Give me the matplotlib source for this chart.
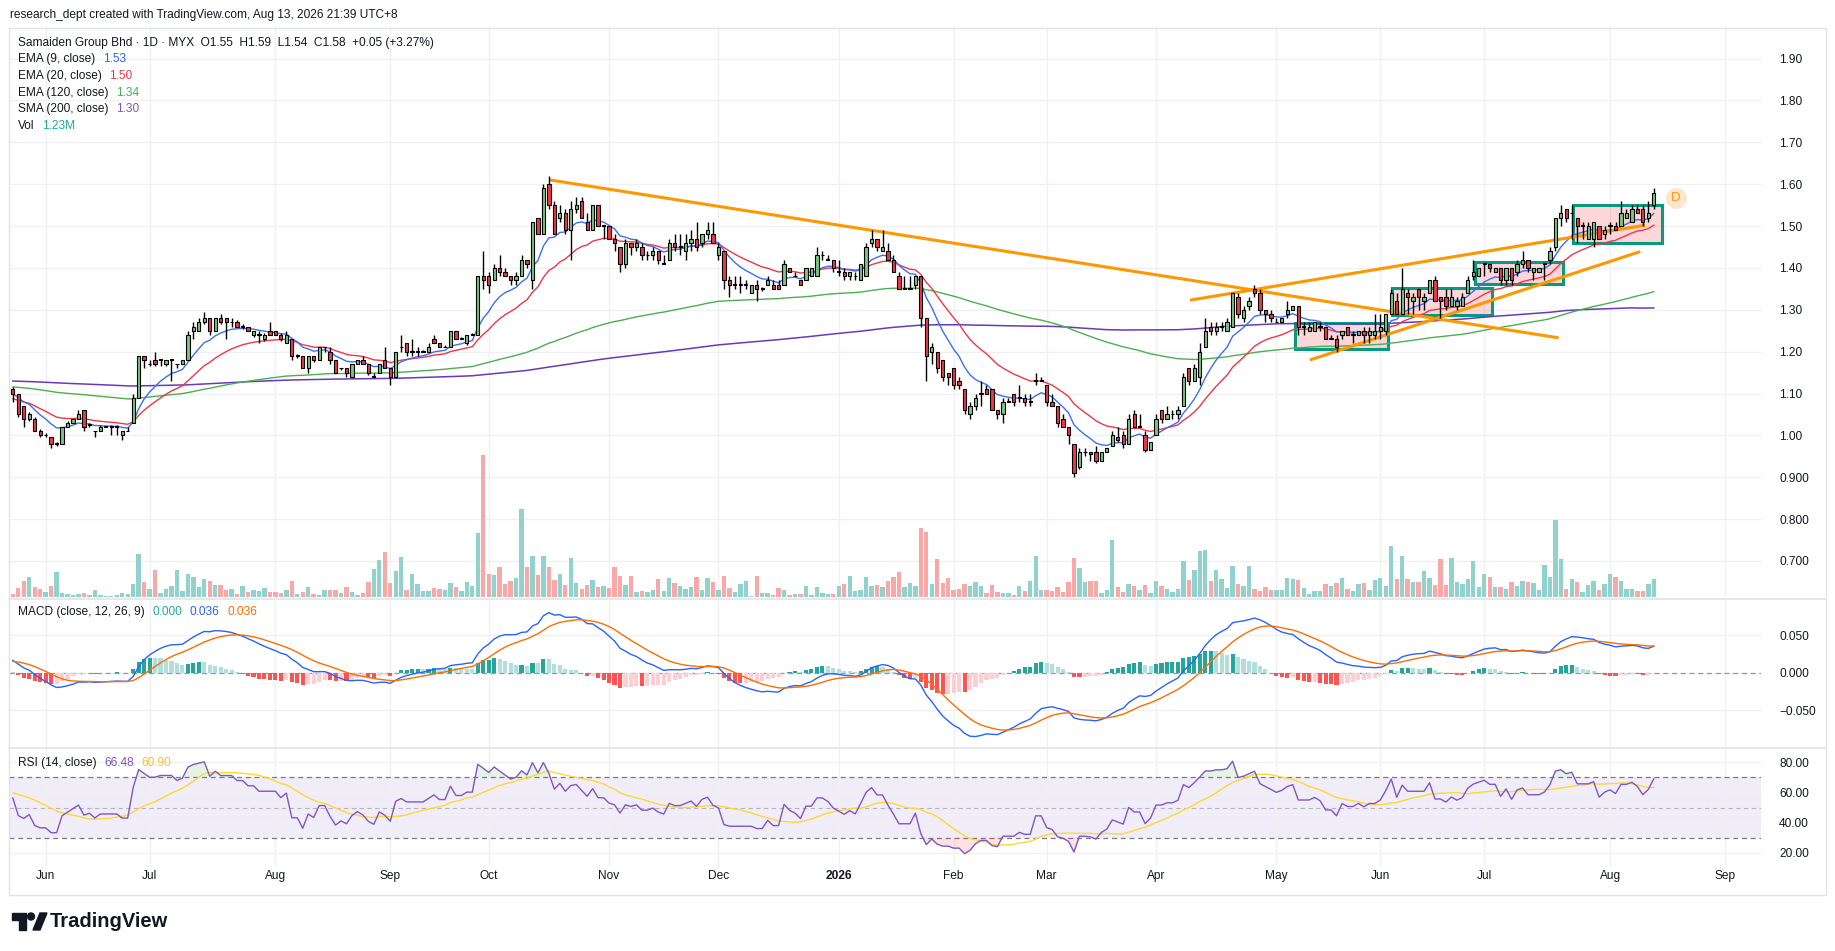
import numpy as np
import matplotlib.pyplot as plt
from matplotlib.patches import Rectangle, Polygon, Ellipse

plt.rcParams['font.family'] = ['Liberation Sans', 'DejaVu Sans']

W, H = 1835, 951


def fx(px):
    return px / W


def fy(py):
    return 1 - py / H


# ---- daily OHLC (MYX: Samaiden, late May 2025 .. 13 Aug 2026)
opens = [
    1.11, 1.10, 1.07, 1.04, 1.04, 1.01, 1.00, 0.995, 0.98, 0.98,
    1.02, 1.03, 1.04, 1.06, 1.025, 1.01, 1.01, 1.02, 1.02, 1.02,
    1.00, 1.01, 1.03, 1.09, 1.19, 1.17, 1.18, 1.18, 1.17, 1.18,
    1.17, 1.17, 1.18, 1.25, 1.25, 1.27, 1.28, 1.25, 1.28, 1.28,
    1.27, 1.27, 1.26, 1.26, 1.24, 1.24, 1.23, 1.25, 1.25, 1.24,
    1.22, 1.23, 1.19, 1.19, 1.16, 1.19, 1.18, 1.21, 1.20, 1.18,
    1.16, 1.16, 1.14, 1.17, 1.18, 1.17, 1.14, 1.15, 1.18, 1.16,
    1.14, 1.21, 1.22, 1.20, 1.20, 1.20, 1.20, 1.23, 1.22, 1.21,
    1.21, 1.25, 1.23, 1.22, 1.24, 1.24, 1.38, 1.38, 1.37, 1.40,
    1.39, 1.38, 1.37, 1.38, 1.42, 1.37, 1.52, 1.48, 1.60, 1.55,
    1.52, 1.53, 1.49, 1.54, 1.56, 1.51, 1.49, 1.55, 1.50, 1.50,
    1.47, 1.45, 1.41, 1.46, 1.45, 1.45, 1.43, 1.43, 1.44, 1.41,
    1.42, 1.46, 1.45, 1.44, 1.46, 1.47, 1.46, 1.48, 1.48, 1.43,
    1.44, 1.37, 1.36, 1.36, 1.36, 1.34, 1.36, 1.35, 1.36, 1.36,
    1.36, 1.36, 1.40, 1.38, 1.37, 1.37, 1.38, 1.38, 1.43, 1.42,
    1.42, 1.39, 1.39, 1.38, 1.38, 1.37, 1.38, 1.46, 1.47, 1.44,
    1.44, 1.42, 1.38, 1.35, 1.35, 1.36, 1.38, 1.28, 1.20, 1.20,
    1.18, 1.15, 1.16, 1.13, 1.11, 1.05, 1.07, 1.10, 1.11, 1.11,
    1.06, 1.05, 1.08, 1.10, 1.09, 1.09, 1.08, 1.13, 1.13, 1.12,
    1.08, 1.07, 1.04, 1.02, 0.98, 0.925, 0.96, 0.96, 0.96, 0.94,
    0.96, 0.975, 0.995, 1.00, 0.98, 1.05, 1.02, 1.00, 0.965, 1.00,
    1.06, 1.04, 1.05, 1.05, 1.07, 1.16, 1.13, 1.14, 1.21, 1.26,
    1.25, 1.26, 1.25, 1.26, 1.33, 1.28, 1.31, 1.35, 1.34, 1.30,
    1.29, 1.27, 1.27, 1.29, 1.30, 1.31, 1.26, 1.25, 1.25, 1.26,
    1.26, 1.23, 1.23, 1.24, 1.26, 1.24, 1.24, 1.25, 1.24, 1.24,
    1.25, 1.25, 1.29, 1.32, 1.29, 1.34, 1.32, 1.35, 1.32, 1.34,
    1.37, 1.33, 1.33, 1.31, 1.31, 1.31, 1.34, 1.38, 1.38, 1.41,
    1.41, 1.39, 1.40, 1.37, 1.40, 1.39, 1.41, 1.42, 1.39, 1.39,
    1.41, 1.42, 1.45, 1.52, 1.54, 1.53, 1.52, 1.50, 1.47, 1.47,
    1.50, 1.48, 1.50, 1.50, 1.50, 1.52, 1.51, 1.54, 1.54, 1.52,
    1.55,
]
highs = [
    1.115, 1.10, 1.07, 1.055, 1.045, 1.015, 1.005, 0.995, 0.985, 1.02,
    1.035, 1.04, 1.06, 1.06, 1.03, 1.01, 1.025, 1.02, 1.025, 1.025,
    1.01, 1.02, 1.10, 1.19, 1.19, 1.18, 1.20, 1.18, 1.18, 1.18,
    1.17, 1.18, 1.25, 1.27, 1.28, 1.295, 1.28, 1.28, 1.29, 1.28,
    1.28, 1.275, 1.265, 1.26, 1.25, 1.25, 1.245, 1.27, 1.25, 1.245,
    1.25, 1.23, 1.195, 1.19, 1.19, 1.19, 1.21, 1.21, 1.21, 1.18,
    1.16, 1.16, 1.17, 1.18, 1.19, 1.17, 1.15, 1.17, 1.21, 1.16,
    1.20, 1.24, 1.22, 1.23, 1.21, 1.205, 1.22, 1.24, 1.22, 1.215,
    1.25, 1.25, 1.235, 1.24, 1.245, 1.38, 1.44, 1.39, 1.41, 1.43,
    1.40, 1.38, 1.39, 1.43, 1.42, 1.51, 1.52, 1.60, 1.62, 1.56,
    1.55, 1.54, 1.56, 1.57, 1.57, 1.53, 1.55, 1.55, 1.50, 1.50,
    1.48, 1.45, 1.47, 1.46, 1.47, 1.46, 1.44, 1.45, 1.44, 1.43,
    1.47, 1.48, 1.48, 1.48, 1.49, 1.51, 1.48, 1.51, 1.51, 1.46,
    1.44, 1.38, 1.38, 1.38, 1.37, 1.36, 1.37, 1.355, 1.38, 1.37,
    1.37, 1.42, 1.40, 1.39, 1.37, 1.40, 1.40, 1.45, 1.44, 1.43,
    1.42, 1.42, 1.40, 1.39, 1.39, 1.41, 1.46, 1.49, 1.47, 1.49,
    1.46, 1.43, 1.39, 1.38, 1.38, 1.38, 1.38, 1.28, 1.22, 1.20,
    1.18, 1.15, 1.16, 1.14, 1.11, 1.08, 1.10, 1.13, 1.12, 1.11,
    1.06, 1.09, 1.09, 1.10, 1.12, 1.10, 1.10, 1.15, 1.14, 1.12,
    1.10, 1.07, 1.05, 1.02, 0.98, 0.97, 0.97, 0.96, 0.975, 0.96,
    0.97, 1.01, 1.02, 1.01, 1.05, 1.06, 1.05, 1.01, 0.985, 1.05,
    1.06, 1.07, 1.06, 1.07, 1.15, 1.16, 1.17, 1.22, 1.28, 1.27,
    1.27, 1.27, 1.28, 1.34, 1.34, 1.31, 1.33, 1.36, 1.35, 1.30,
    1.30, 1.28, 1.28, 1.32, 1.31, 1.31, 1.27, 1.27, 1.27, 1.27,
    1.26, 1.24, 1.24, 1.25, 1.26, 1.25, 1.25, 1.26, 1.26, 1.29,
    1.29, 1.29, 1.35, 1.34, 1.40, 1.35, 1.34, 1.35, 1.34, 1.37,
    1.38, 1.33, 1.35, 1.35, 1.33, 1.34, 1.38, 1.42, 1.40, 1.41,
    1.41, 1.40, 1.40, 1.40, 1.40, 1.42, 1.44, 1.42, 1.40, 1.40,
    1.41, 1.45, 1.52, 1.55, 1.54, 1.55, 1.52, 1.51, 1.51, 1.51,
    1.50, 1.50, 1.51, 1.51, 1.56, 1.54, 1.55, 1.55, 1.55, 1.56,
    1.59,
]
lows = [
    1.08, 1.045, 1.02, 1.035, 1.01, 0.995, 0.995, 0.97, 0.975, 0.98,
    1.02, 1.03, 1.04, 1.01, 1.02, 0.995, 1.01, 1.02, 1.00, 1.00,
    0.99, 1.01, 1.03, 1.09, 1.16, 1.165, 1.165, 1.165, 1.165, 1.13,
    1.16, 1.17, 1.18, 1.23, 1.25, 1.265, 1.24, 1.25, 1.265, 1.23,
    1.26, 1.26, 1.255, 1.25, 1.235, 1.22, 1.225, 1.24, 1.24, 1.225,
    1.22, 1.18, 1.185, 1.16, 1.15, 1.175, 1.18, 1.20, 1.17, 1.15,
    1.155, 1.14, 1.14, 1.17, 1.17, 1.145, 1.14, 1.15, 1.16, 1.12,
    1.14, 1.20, 1.19, 1.19, 1.19, 1.20, 1.20, 1.22, 1.21, 1.21,
    1.21, 1.23, 1.23, 1.215, 1.24, 1.24, 1.35, 1.34, 1.37, 1.38,
    1.38, 1.36, 1.36, 1.38, 1.40, 1.35, 1.48, 1.48, 1.54, 1.48,
    1.51, 1.48, 1.42, 1.53, 1.52, 1.49, 1.49, 1.50, 1.47, 1.47,
    1.44, 1.39, 1.40, 1.43, 1.44, 1.42, 1.42, 1.42, 1.41, 1.41,
    1.42, 1.44, 1.43, 1.42, 1.44, 1.44, 1.45, 1.47, 1.46, 1.42,
    1.35, 1.33, 1.35, 1.34, 1.35, 1.34, 1.32, 1.345, 1.36, 1.35,
    1.35, 1.36, 1.39, 1.38, 1.36, 1.37, 1.38, 1.38, 1.42, 1.42,
    1.39, 1.38, 1.37, 1.37, 1.37, 1.37, 1.38, 1.45, 1.44, 1.44,
    1.42, 1.39, 1.35, 1.35, 1.35, 1.35, 1.26, 1.13, 1.17, 1.15,
    1.13, 1.12, 1.11, 1.11, 1.05, 1.04, 1.06, 1.07, 1.10, 1.06,
    1.04, 1.03, 1.08, 1.07, 1.08, 1.07, 1.07, 1.12, 1.13, 1.07,
    1.07, 1.02, 1.02, 0.98, 0.90, 0.92, 0.95, 0.94, 0.935, 0.94,
    0.96, 0.975, 0.985, 0.97, 0.98, 1.02, 1.02, 0.96, 0.965, 1.00,
    1.03, 1.04, 1.04, 1.04, 1.07, 1.12, 1.13, 1.12, 1.21, 1.24,
    1.24, 1.25, 1.25, 1.26, 1.28, 1.27, 1.30, 1.33, 1.29, 1.27,
    1.27, 1.27, 1.27, 1.28, 1.30, 1.24, 1.24, 1.25, 1.25, 1.25,
    1.23, 1.23, 1.20, 1.23, 1.24, 1.22, 1.24, 1.22, 1.22, 1.23,
    1.23, 1.24, 1.29, 1.29, 1.29, 1.29, 1.29, 1.30, 1.30, 1.34,
    1.32, 1.28, 1.30, 1.31, 1.30, 1.31, 1.34, 1.37, 1.38, 1.38,
    1.39, 1.39, 1.36, 1.36, 1.36, 1.38, 1.40, 1.39, 1.37, 1.39,
    1.37, 1.41, 1.44, 1.50, 1.51, 1.47, 1.46, 1.47, 1.47, 1.45,
    1.47, 1.47, 1.48, 1.49, 1.50, 1.52, 1.51, 1.53, 1.50, 1.51,
    1.54,
]
closes = [
    1.10, 1.05, 1.04, 1.05, 1.01, 1.00, 1.00, 0.98, 0.98, 1.02,
    1.03, 1.04, 1.05, 1.02, 1.025, 1.01, 1.02, 1.02, 1.02, 1.02,
    1.01, 1.01, 1.09, 1.19, 1.18, 1.17, 1.17, 1.18, 1.18, 1.18,
    1.17, 1.18, 1.24, 1.26, 1.27, 1.28, 1.25, 1.28, 1.27, 1.27,
    1.27, 1.26, 1.26, 1.25, 1.25, 1.24, 1.24, 1.24, 1.24, 1.23,
    1.24, 1.19, 1.19, 1.16, 1.19, 1.18, 1.21, 1.21, 1.18, 1.15,
    1.16, 1.15, 1.17, 1.18, 1.17, 1.15, 1.14, 1.17, 1.16, 1.14,
    1.20, 1.21, 1.20, 1.20, 1.20, 1.20, 1.21, 1.22, 1.21, 1.21,
    1.25, 1.23, 1.23, 1.24, 1.24, 1.38, 1.37, 1.36, 1.40, 1.39,
    1.38, 1.37, 1.38, 1.42, 1.41, 1.51, 1.48, 1.59, 1.55, 1.48,
    1.53, 1.49, 1.54, 1.55, 1.52, 1.49, 1.55, 1.50, 1.50, 1.47,
    1.46, 1.41, 1.46, 1.45, 1.46, 1.43, 1.43, 1.44, 1.42, 1.41,
    1.46, 1.45, 1.45, 1.46, 1.47, 1.45, 1.48, 1.49, 1.46, 1.45,
    1.37, 1.36, 1.36, 1.36, 1.36, 1.36, 1.35, 1.35, 1.37, 1.35,
    1.35, 1.41, 1.39, 1.38, 1.36, 1.40, 1.40, 1.43, 1.43, 1.42,
    1.40, 1.39, 1.38, 1.39, 1.38, 1.41, 1.45, 1.47, 1.45, 1.45,
    1.42, 1.39, 1.35, 1.35, 1.35, 1.38, 1.28, 1.19, 1.21, 1.16,
    1.14, 1.14, 1.12, 1.12, 1.06, 1.07, 1.09, 1.10, 1.10, 1.06,
    1.05, 1.08, 1.08, 1.08, 1.09, 1.08, 1.08, 1.13, 1.13, 1.08,
    1.07, 1.03, 1.02, 1.00, 0.91, 0.96, 0.96, 0.955, 0.94, 0.96,
    0.97, 1.00, 0.99, 0.98, 1.04, 1.02, 1.02, 0.965, 0.985, 1.04,
    1.04, 1.05, 1.05, 1.06, 1.14, 1.13, 1.16, 1.20, 1.25, 1.25,
    1.26, 1.26, 1.27, 1.34, 1.29, 1.30, 1.32, 1.34, 1.30, 1.29,
    1.28, 1.27, 1.28, 1.30, 1.31, 1.26, 1.26, 1.26, 1.27, 1.26,
    1.23, 1.23, 1.21, 1.25, 1.24, 1.24, 1.25, 1.24, 1.25, 1.25,
    1.26, 1.29, 1.34, 1.29, 1.35, 1.33, 1.33, 1.33, 1.33, 1.37,
    1.32, 1.32, 1.31, 1.33, 1.32, 1.33, 1.37, 1.39, 1.40, 1.41,
    1.40, 1.40, 1.37, 1.40, 1.37, 1.41, 1.42, 1.40, 1.40, 1.40,
    1.41, 1.44, 1.52, 1.53, 1.52, 1.53, 1.50, 1.50, 1.50, 1.51,
    1.47, 1.49, 1.50, 1.49, 1.53, 1.53, 1.54, 1.53, 1.51, 1.53,
    1.58,
]
# volume, millions of shares
volume_m = [
    0.21, 0.62, 1.09, 1.37, 0.68, 0.55, 0.34, 0.75, 1.71, 0.27,
    0.21, 0.14, 0.21, 0.27, 0.14, 0.48, 0.14, 0.07, 0.07, 0.14,
    0.27, 0.21, 0.89, 2.94, 1.03, 0.55, 1.85, 0.27, 0.55, 0.75,
    1.85, 0.41, 1.57, 1.37, 0.68, 1.23, 1.09, 0.82, 0.82, 0.48,
    0.55, 0.21, 0.75, 0.34, 0.48, 0.41, 0.62, 0.34, 0.34, 0.27,
    0.48, 1.09, 0.21, 0.34, 0.68, 0.21, 0.14, 0.48, 0.48, 0.48,
    0.27, 0.68, 0.34, 0.14, 0.27, 1.03, 1.92, 2.53, 3.08, 0.96,
    1.78, 2.74, 0.48, 1.57, 0.89, 0.41, 0.41, 0.62, 0.55, 0.48,
    0.96, 0.68, 0.41, 1.03, 0.75, 4.38, 9.71, 1.57, 1.50, 2.05,
    0.89, 1.09, 1.30, 6.02, 2.05, 2.80, 1.50, 2.80, 2.05, 1.16,
    1.57, 0.82, 2.67, 0.96, 0.55, 0.82, 1.16, 0.68, 0.75, 0.62,
    2.05, 1.44, 0.82, 1.44, 0.34, 0.41, 0.34, 0.48, 1.23, 0.41,
    1.30, 0.96, 0.75, 0.55, 0.68, 1.37, 0.48, 1.30, 1.03, 0.48,
    1.44, 0.62, 0.34, 0.89, 1.09, 0.07, 1.44, 0.27, 0.27, 0.14,
    0.62, 0.48, 0.14, 0.21, 0.21, 0.75, 0.14, 0.68, 0.27, 0.21,
    0.21, 0.75, 0.89, 1.44, 0.41, 0.48, 1.37, 0.75, 0.82, 0.68,
    1.09, 1.37, 1.71, 0.68, 0.96, 0.75, 4.72, 4.45, 0.89, 2.60,
    0.96, 1.30, 0.48, 0.55, 0.89, 0.75, 1.03, 0.75, 0.27, 0.82,
    0.34, 0.27, 0.27, 0.14, 0.75, 0.41, 1.09, 2.80, 0.48, 0.48,
    0.41, 0.68, 0.34, 1.03, 2.67, 1.98, 1.03, 1.09, 1.09, 0.27,
    0.48, 3.90, 0.68, 0.34, 0.89, 0.75, 0.48, 0.82, 0.27, 1.09,
    0.75, 0.55, 0.34, 0.55, 2.46, 1.16, 1.85, 3.15, 3.22, 1.09,
    1.85, 1.23, 0.62, 2.12, 0.89, 0.75, 2.12, 0.55, 0.41, 0.68,
    0.48, 0.48, 0.48, 1.30, 1.23, 1.16, 0.62, 0.21, 0.41, 0.41,
    0.89, 0.75, 0.96, 1.30, 0.55, 0.41, 0.89, 0.96, 0.48, 1.16,
    1.30, 0.75, 3.49, 1.23, 2.80, 1.23, 1.03, 1.03, 1.78, 1.30,
    0.82, 2.60, 0.82, 2.67, 1.03, 0.89, 1.23, 2.46, 0.68, 1.57,
    1.37, 0.68, 0.68, 0.55, 1.03, 0.75, 1.09, 1.03, 0.96, 0.48,
    2.19, 1.37, 5.27, 2.60, 0.55, 1.23, 1.03, 0.34, 0.82, 1.09,
    0.48, 0.89, 1.57, 1.37, 1.09, 0.55, 0.55, 0.41, 0.41, 0.89,
    1.23,
]

# first trading day of each month (bar index) and axis labels
month_idx = [6, 25, 48, 69, 87, 109, 129, 151, 172, 189, 209, 231, 250, 269, 292, 313]
month_lbl = ['Jun', 'Jul', 'Aug', 'Sep', 'Oct', 'Nov', 'Dec', '2026', 'Feb', 'Mar',
             'Apr', 'May', 'Jun', 'Jul', 'Aug', 'Sep']

price_ticks = [1.9, 1.8, 1.7, 1.6, 1.5, 1.4, 1.3, 1.2, 1.1, 1.0, 0.9, 0.8, 0.7]
price_lbls = ['1.90', '1.80', '1.70', '1.60', '1.50', '1.40', '1.30', '1.20', '1.10',
              '1.00', '0.900', '0.800', '0.700']

# drawings on the chart: (bar index, price)
trend_lines = [
    ((98.2, 1.610), (282.6, 1.233)),
    ((215.2, 1.323), (298.4, 1.502)),
    ((237.1, 1.180), (297.5, 1.439)),
]
boxes = [
    (234.4, 251.4, 1.206, 1.269),
    (252.2, 270.4, 1.288, 1.352),
    (267.4, 283.4, 1.362, 1.413),
    (285.3, 301.5, 1.460, 1.550),
]

assert len(opens) == len(highs) == len(lows) == len(closes) == len(volume_m)

o = np.array(opens)
h = np.array(highs)
l = np.array(lows)
c = np.array(closes)
vol = np.array(volume_m)
n = len(c)
x = np.arange(n)


def ema(v, span, seed):
    a = 2.0 / (span + 1)
    out = np.empty(len(v))
    prev = seed
    for i, val in enumerate(v):
        prev = a * val + (1 - a) * prev
        out[i] = prev
    return out


# seeds = indicator values just before the first bar
ema9 = ema(c, 9, 1.100)
ema20 = ema(c, 20, 1.086)
ema120 = ema(c, 120, 1.116)
sma200 = np.convolve(np.concatenate([np.full(199, 1.13), c]), np.ones(200) / 200, mode='valid')

macd = ema(c, 12, 1.098) - ema(c, 26, 1.080)
signal = ema(macd, 9, 0.015)
hist = macd - signal

diff = np.diff(c, prepend=c[0])
ag, al = 0.009, 0.007
rsi = np.empty(n)
for i, d in enumerate(diff):
    ag = (ag * 13 + max(d, 0)) / 14
    al = (al * 13 + max(-d, 0)) / 14
    rsi[i] = 100 - 100 / (1 + ag / al)
rsi_ma = np.convolve(np.concatenate([np.full(13, 60.0), rsi]), np.ones(14) / 14, mode='valid')

TXT = '#131722'
GRID = '#f0f0f0'
FS = 8.6
UP_BODY, DN_BODY = '#7cc67f', '#f23645'
XL = (-0.7, 319.6)

fig = plt.figure(figsize=(W / 100, H / 100), dpi=100)
left, right = fx(9), fx(1761)
ax_p = fig.add_axes([left, fy(597), right - left, fy(28) - fy(597)])
ax_v = ax_p.twinx()
ax_m = fig.add_axes([left, fy(747), right - left, fy(600) - fy(747)])
ax_r = fig.add_axes([left, fy(866), right - left, fy(749) - fy(866)])

pmin, pmax = 0.614, 1.973
vmax = 569 * 1.23 / 18  # 18 px of bar = 1.23M

# volume underneath the candles
ax_v.set_zorder(0)
ax_p.set_zorder(1)
ax_p.patch.set_visible(False)
up = c >= o
ax_v.bar(x, vol, width=0.8, color=np.where(up, '#92d2cc', '#f7a9a7'), zorder=2)
for p in price_ticks:
    ax_v.axhline((p - pmin) / (pmax - pmin) * vmax, color=GRID, lw=1, zorder=0)
for m in month_idx:
    ax_v.axvline(m, color=GRID, lw=1, zorder=0)
ax_v.set_ylim(0, vmax)
ax_v.set_yticks([])

# candles
ax_p.vlines(x, l, h, color='#000000', lw=1.0, zorder=4)
ax_p.bar(x, np.maximum(np.abs(c - o), 0.0015), bottom=np.minimum(o, c), width=0.6,
         color=np.where(up, UP_BODY, DN_BODY), edgecolor='#000000', lw=0.8, zorder=5)

ax_p.plot(x, sma200, color='#673ab7', lw=1.1, zorder=3)
ax_p.plot(x, ema120, color='#4caf50', lw=1.0, zorder=3)
ax_p.plot(x, ema20, color='#f23645', lw=1.0, zorder=3)
ax_p.plot(x, ema9, color='#3d6ff5', lw=1.0, zorder=3)

for (x0, y0), (x1, y1) in trend_lines:
    ax_p.plot([x0, x1], [y0, y1], color='#ff9800', lw=2.2, zorder=3.5, solid_capstyle='butt')
for x0, x1, y0, y1 in boxes:
    ax_p.add_patch(Rectangle((x0, y0), x1 - x0, y1 - y0, facecolor=(0.95, 0.21, 0.27, 0.2),
                             edgecolor='#089981', lw=2.2, zorder=2))

ax_p.plot(304, 1.568, 'o', ms=15, color='#fde6cc', mec='none', zorder=6)
ax_p.text(304, 1.567, 'D', color='#ff9800', fontsize=9.5, ha='center', va='center', zorder=7)

ax_p.set_ylim(pmin, pmax)
ax_p.set_yticks(price_ticks)
ax_p.set_yticklabels(price_lbls)

# MACD pane
hcol = []
for i, v in enumerate(hist):
    prev = hist[i - 1] if i else v
    if v >= 0:
        hcol.append('#26a69a' if v > prev else '#b2dfdb')
    else:
        hcol.append('#ffcdd2' if v > prev else '#ff5252')
ax_m.bar(x, hist, width=0.75, color=hcol, zorder=2)
ax_m.axhline(0, color='#9598a1', lw=0.9, ls=(0, (4, 3)), zorder=1)
ax_m.plot(x, macd, color='#2962ff', lw=1.0, zorder=3)
ax_m.plot(x, signal, color='#ff6d00', lw=1.0, zorder=3)
ax_m.set_ylim(-0.0987, 0.0973)
ax_m.set_yticks([0.05, 0.0, -0.05])
ax_m.set_yticklabels(['0.050', '0.000', '\u22120.050'])

# RSI pane
ax_r.axhspan(30, 70, color='#7e57c2', alpha=0.1, lw=0, zorder=0)
ax_r.axhline(70, color='#787b86', lw=0.9, ls=(0, (4, 3)), zorder=1)
ax_r.axhline(30, color='#787b86', lw=0.9, ls=(0, (4, 3)), zorder=1)
ax_r.axhline(50, color='#787b86', lw=0.8, ls=(0, (4, 3)), alpha=0.5, zorder=1)
ax_r.fill_between(x, 70, rsi, where=rsi > 70, interpolate=True, color='#4caf50', alpha=0.15, lw=0)
ax_r.fill_between(x, 30, rsi, where=rsi < 30, interpolate=True, color='#f23645', alpha=0.15, lw=0)
ax_r.plot(x, rsi_ma, color='#fdd835', lw=1.0, zorder=2)
ax_r.plot(x, rsi, color='#7e57c2', lw=1.0, zorder=3)
ax_r.set_ylim(11.4, 88.6)
ax_r.set_yticks([80, 60, 40, 20])
ax_r.set_yticklabels(['80.00', '60.00', '40.00', '20.00'])

for ax in (ax_p, ax_m, ax_r):
    ax.set_xlim(*XL)
    for s in ax.spines.values():
        s.set_visible(False)
    ax.yaxis.tick_right()
    ax.tick_params(axis='y', length=0, pad=13, labelsize=FS, labelcolor=TXT)
    ax.set_xticks(month_idx)
    ax.tick_params(axis='x', length=0, labelbottom=False)
for s in ax_v.spines.values():
    s.set_visible(False)
for ax in (ax_m, ax_r):
    ax.grid(True, color=GRID, lw=1)
    ax.set_axisbelow(True)

ax_r.tick_params(axis='x', labelbottom=True, pad=3, labelsize=FS, labelcolor=TXT)
ax_r.set_xticklabels(month_lbl)
ax_r.get_xticklabels()[month_lbl.index('2026')].set_fontweight('bold')

# frame and pane separators
fig.add_artist(Rectangle((fx(9), fy(895)), fx(1826) - fx(9), fy(28) - fy(895), transform=fig.transFigure,
                         fill=False, edgecolor='#e0e3eb', lw=1))
for yy in (598.5, 748):
    fig.add_artist(plt.Line2D([fx(9), fx(1826)], [fy(yy), fy(yy)], transform=fig.transFigure,
                              color='#e0e3eb', lw=1.2))


def legend_row(xp, yp, parts, gap=5.5):
    t = fig.text(fx(xp), fy(yp), parts[0][0], color=parts[0][1], fontsize=FS, va='center')
    for s, col in parts[1:]:
        t = ax_p.annotate(s, xy=(1, 0.5), xycoords=t, xytext=(gap, 0), textcoords='offset points',
                          color=col, fontsize=FS, va='center', ha='left')


fig.text(fx(10), fy(15), 'research_dept created with TradingView.com, Aug 13, 2026 21:39 UTC+8',
         fontsize=FS, color=TXT, va='center')
legend_row(18, 42.7, [('Samaiden Group Bhd \u00b7 1D \u00b7 MYX  O1.55  H1.59  L1.54  C1.58  +0.05 (+3.27%)', TXT)])
legend_row(18, 59.3, [('EMA (9, close)', TXT), ('1.53', '#2962ff')])
legend_row(18, 76.0, [('EMA (20, close)', TXT), ('1.50', '#f23645')])
legend_row(18, 92.7, [('EMA (120, close)', TXT), ('1.34', '#4caf50')])
legend_row(18, 109.3, [('SMA (200, close)', TXT), ('1.30', '#7e57c2')])
legend_row(18, 126.0, [('Vol', TXT), ('1.23M', '#22ab94')])
legend_row(18, 612, [('MACD (close, 12, 26, 9)', TXT), ('0.000', '#22ab94'), ('0.036', '#2962ff'),
                     ('0.036', '#ff6d00')])
legend_row(18, 763, [('RSI (14, close)', TXT), ('66.48', '#7e57c2'), ('60.90', '#fbc02d')])

# TradingView logo mark + wordmark
tf = fig.transFigure
fig.add_artist(Polygon([(fx(12), fy(913)), (fx(26), fy(913)), (fx(26), fy(930)), (fx(19), fy(930)),
                        (fx(19), fy(920)), (fx(12), fy(920))], closed=True, transform=tf, color=TXT))
fig.add_artist(Ellipse((fx(31), fy(916.5)), 7 / W, 7 / H, transform=tf, color=TXT))
fig.add_artist(Polygon([(fx(33), fy(930)), (fx(40), fy(913)), (fx(47), fy(913)), (fx(40), fy(930))],
                       closed=True, transform=tf, color=TXT))
fig.text(fx(50), fy(921.5), 'TradingView', fontsize=14.5, fontweight='bold', color=TXT, va='center')

fig.savefig('out.png', dpi=100, facecolor='white')
